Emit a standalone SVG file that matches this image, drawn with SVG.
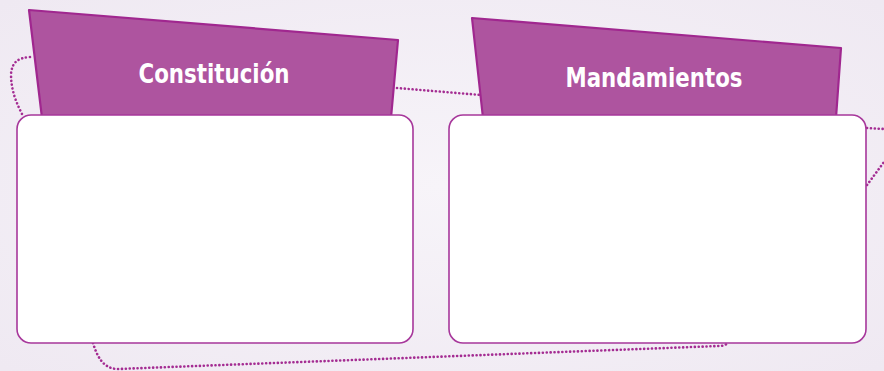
<svg xmlns="http://www.w3.org/2000/svg" width="884" height="371" viewBox="0 0 884 371">
<defs>
<radialGradient id="bg" cx="0.5" cy="0.5" r="0.7">
<stop offset="0" stop-color="#f7f4f9"/>
<stop offset="1" stop-color="#efe9f2"/>
</radialGradient>
<style>
.tab{fill:#ae549f;stroke:#a0278f;stroke-width:2.2;stroke-linejoin:round}
.box{fill:#ffffff;stroke:#a7379b;stroke-width:1.6}
.dot{fill:none;stroke:#a42c92;stroke-width:2.6;stroke-dasharray:0.1 3.8;stroke-linecap:round}
.lbl{fill:#ffffff;font-family:"DejaVu Sans Condensed","Liberation Sans Narrow","Liberation Sans",sans-serif;font-weight:bold;font-size:27px;text-anchor:middle}
</style>
</defs>
<rect width="884" height="371" fill="url(#bg)"/>
<g id="connectors">
<path class="dot" d="M30,57 C18,58 12,62 11,74 C11,90 16,102 22,114"/>
<path class="dot" d="M397,88 L481,95"/>
<path class="dot" d="M867,128 L884,129"/>
<path class="dot" d="M867,185 L884,162"/>
<path class="dot" d="M93,343 C97,356 103,369 118,369 L718,346 C724,346 726,345 727,343"/>
</g>
<g id="constitucion">
<path class="tab" d="M29,10 L398,40 L391,118 L42,118 Z"/>
<rect class="box" x="17" y="115" width="396" height="228" rx="14"/>
<text class="lbl" x="214" y="83" textLength="151" lengthAdjust="spacingAndGlyphs">Constitución</text>
</g>
<g id="mandamientos">
<path class="tab" d="M472,18 L841,48 L836,118 L483,118 Z"/>
<rect class="box" x="449" y="115" width="417" height="228" rx="14"/>
<text class="lbl" x="654" y="87" textLength="177" lengthAdjust="spacingAndGlyphs">Mandamientos</text>
</g>
</svg>
